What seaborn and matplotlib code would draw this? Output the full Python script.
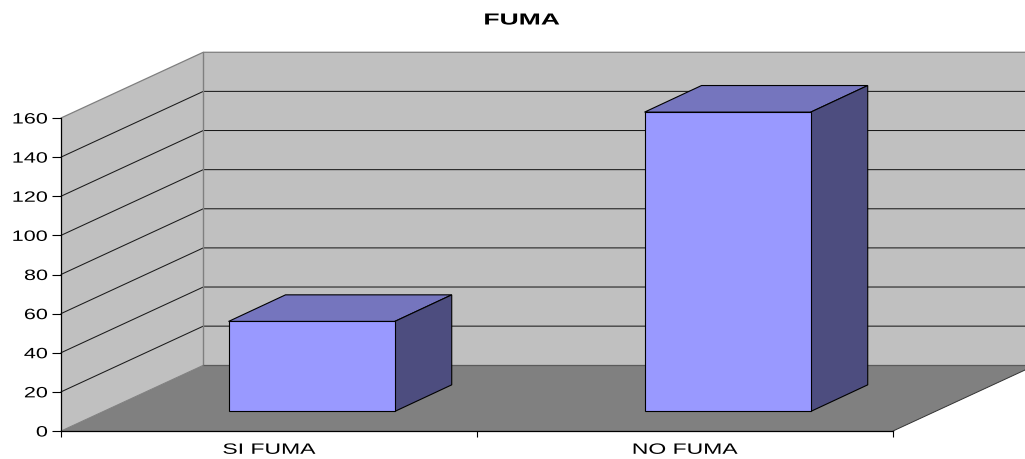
import matplotlib
matplotlib.use("Agg")
import matplotlib.pyplot as plt
import seaborn as sns
from matplotlib.patches import Polygon
from matplotlib.patheffects import AbstractPathEffect
from matplotlib.transforms import Affine2D

categories = ["SI FUMA", "NO FUMA"]
values = [46, 153]
y_ticks = [0, 20, 40, 60, 80, 100, 120, 140, 160]
title = "FUMA"

# 3d look: depth of the chart box and of the bars, in axis units
box_dx, box_dy = 0.342, 33.6
bar_dx, bar_dy = 0.137, 13.6
gap_dx, gap_dy = (box_dx - bar_dx) / 2, (box_dy - bar_dy) / 2
bar_width = 0.3995

wall_color = "#C0C0C0"
floor_color = "#808080"
edge_gray = "#7F7F7F"
bar_front = "#9999FF"
bar_top = "#7575BE"
bar_side = "#4D4D7F"


class StretchX(AbstractPathEffect):
    # the original text is drawn wider than normal
    def __init__(self, sx, anchor=0.5):
        super().__init__()
        self.sx = sx
        self.anchor = anchor

    def draw_path(self, renderer, gc, tpath, affine, rgbFace=None):
        box = tpath.get_extents()
        x0 = box.x0 + self.anchor * box.width
        stretch = Affine2D().translate(-x0, 0).scale(self.sx, 1).translate(x0, 0)
        renderer.draw_path(gc, tpath, stretch + affine, rgbFace)


def add_poly(ax, points, color, z, edge="none", lw=0.0):
    ax.add_patch(Polygon(points, closed=True, facecolor=color, edgecolor=edge,
                         linewidth=lw, zorder=z, clip_on=False))


sns.set_theme(style="white")
plt.rcParams["font.family"] = ["Liberation Sans", "DejaVu Sans"]

fig = plt.figure(figsize=(10.25, 4.59), dpi=100, facecolor="white")
ax = fig.add_axes([61 / 1025, 28 / 459, 832 / 1025, 313 / 459])

sns.barplot(x=categories, y=values, width=bar_width, color=bar_front, saturation=1,
            edgecolor="black", linewidth=0.8, ax=ax)

x0, x1 = -0.5, 1.5
y0, y1 = y_ticks[0], y_ticks[-1]
ax.set_xlim(x0, x1)
ax.set_ylim(y0, y1)
ax.patch.set_visible(False)

# walls and floor
add_poly(ax, [(x0, y0), (x0 + box_dx, y0 + box_dy), (x0 + box_dx, y1 + box_dy), (x0, y1)],
         wall_color, 0.1)
add_poly(ax, [(x0 + box_dx, y0 + box_dy), (x1 + box_dx, y0 + box_dy),
              (x1 + box_dx, y1 + box_dy), (x0 + box_dx, y1 + box_dy)], wall_color, 0.1)
add_poly(ax, [(x0, y0), (x1, y0), (x1 + box_dx, y0 + box_dy), (x0 + box_dx, y0 + box_dy)],
         floor_color, 0.2)

# gridlines run along the side wall and then the back wall
for v in y_ticks[1:-1]:
    ax.plot([x0, x0 + box_dx, x1 + box_dx], [v, v + box_dy, v + box_dy],
            color="#1A1A1A", lw=0.75, zorder=0.3, clip_on=False)

# box outline
ax.plot([x0, x0 + box_dx, x1 + box_dx], [y1, y1 + box_dy, y1 + box_dy],
        color=edge_gray, lw=0.9, zorder=0.4, clip_on=False)
ax.plot([x0 + box_dx, x0 + box_dx], [y0 + box_dy, y1 + box_dy],
        color=edge_gray, lw=1.0, zorder=0.4, clip_on=False)
ax.plot([x0 + box_dx, x1 + box_dx], [y0 + box_dy, y0 + box_dy],
        color="#5A5A5A", lw=0.9, zorder=0.4, clip_on=False)
ax.plot([x0, x0 + box_dx], [y0, y0 + box_dy], color=edge_gray, lw=0.7, zorder=0.4, clip_on=False)
ax.plot([x1, x1 + box_dx], [y0, y0 + box_dy], color="#333333", lw=0.7, zorder=0.4, clip_on=False)

# move the bars back off the front plane, add their top and side faces
shift = Affine2D().translate(gap_dx, gap_dy) + ax.transData
for i, (bar, v) in enumerate(zip(ax.patches[:len(values)], values)):
    bar.set_transform(shift)
    bar.set_clip_on(False)
    bar.set_zorder(5)
    left = i - bar_width / 2 + gap_dx
    right = i + bar_width / 2 + gap_dx
    bottom = gap_dy
    top = v + gap_dy
    add_poly(ax, [(left, top), (right, top), (right + bar_dx, top + bar_dy), (left + bar_dx, top + bar_dy)],
             bar_top, 4, "black", 0.8)
    add_poly(ax, [(right, bottom), (right + bar_dx, bottom + bar_dy), (right + bar_dx, top + bar_dy), (right, top)],
             bar_side, 4, "black", 0.8)

# axes
sns.despine(ax=ax, top=True, right=True)
for side in ["left", "bottom"]:
    ax.spines[side].set_color("black")
    ax.spines[side].set_linewidth(0.9)
    ax.spines[side].set_zorder(3)

ax.set_yticks(y_ticks)
ax.set_yticklabels([str(v) for v in y_ticks], fontsize=10.8, color="black")
ax.tick_params(axis="y", left=True, length=6.5, width=0.8, color="black", pad=3)

ax.set_xticks([x0, 0.5, x1])
ax.set_xticklabels(["", "", ""])
ax.tick_params(axis="x", which="major", bottom=True, length=4.5, width=0.8, color="black")
ax.set_xticks([0, 1], minor=True)
ax.set_xticklabels(categories, minor=True, fontsize=10.8, color="black")
ax.tick_params(axis="x", which="minor", bottom=False, length=0, pad=8.5)
ax.set_xlabel("")
ax.set_ylabel("")

for lab in ax.get_yticklabels():
    lab.set_path_effects([StretchX(1.44, anchor=1.0)])
for lab in ax.get_xticklabels(minor=True):
    lab.set_path_effects([StretchX(1.53)])

t = fig.text(522 / 1025, 1 - 24.5 / 459, title, ha="center", va="baseline",
             fontsize=11.5, fontweight="bold", color="black")
t.set_path_effects([StretchX(1.66)])

fig.savefig("out.png", dpi=100, facecolor="white")
plt.close(fig)
